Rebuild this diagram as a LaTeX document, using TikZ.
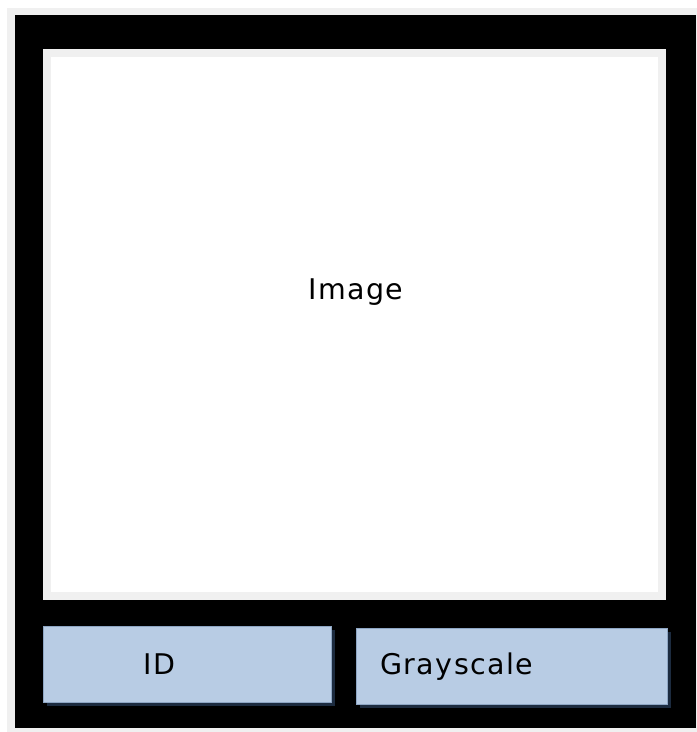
\documentclass[tikz,border=0pt]{standalone}
\usepackage{fontspec}
\setmainfont[LetterSpace=5]{DejaVu Sans}
\usetikzlibrary{positioning}
\definecolor{pagegray}{HTML}{F0F0F0}
\definecolor{fieldblue}{HTML}{B8CCE4}
\definecolor{fieldedge}{HTML}{8EA6C4}
\definecolor{fieldshadow}{HTML}{1C2B3F}
\definecolor{imgshadow}{HTML}{3A1212}
\tikzset{
    panel/.style={rectangle, anchor=north west, inner sep=0pt},
    field/.style={panel, fill=fieldblue, draw=fieldedge, line width=0.8pt},
    label/.style={font=\fontsize{28.5}{28.5}\selectfont, inner sep=0pt}
}
\begin{document}
\begin{tikzpicture}[x=1pt,y=-1pt]
        % Draw page and black frame
        \useasboundingbox (0,0) rectangle (697,732);
        \fill[white] (0,0) rectangle (697,732);
        \fill[pagegray] (7,8) rectangle (697,732);
        \node[panel, fill=black, minimum width=681pt, minimum height=713pt] (frame) at (15,15) {};
        % Image area with shadow
        \fill[imgshadow] (50,55) rectangle (665.5,600);
        \node[panel, fill=white, draw=pagegray, line width=7.5pt, minimum width=615pt, minimum height=543pt] (image) at (43,49) {};
        \node[label] (imagetext) at (356,292) {Image};
        % Fields with shadows
        \fill[fieldshadow] (47,630) rectangle (335,706);
        \fill[fieldshadow] (360,632) rectangle (671,708);
        \node[field, minimum width=288pt, minimum height=76pt] (id) at (43,626) {};
        \node[field, minimum width=311pt, minimum height=76pt] (gray) at (356,628) {};
        \node[label, anchor=west] (idtext) at ([xshift=100pt]id.west) {ID};
        \node[label, anchor=west] (graytext) at ([xshift=24pt]gray.west) {Grayscale};
\end{tikzpicture}
\end{document}
